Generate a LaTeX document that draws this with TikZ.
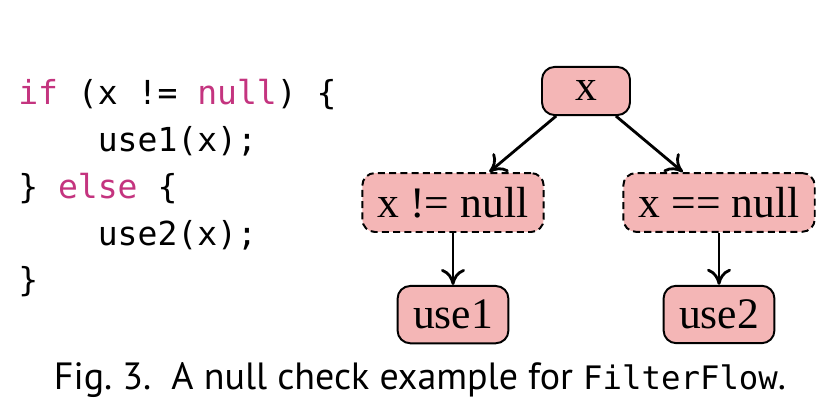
\documentclass[tikz,border=0pt]{standalone}
\usepackage{fontspec}
\setmainfont{Liberation Serif}
\setsansfont{PT Sans}
\setmonofont{DejaVu Sans Mono}
\usepackage{xcolor}
\usetikzlibrary{arrows.meta, positioning}
\definecolor{nodepink}{HTML}{F4B6B6}
\definecolor{keyword}{HTML}{C4347F}

\newcommand{\kw}[1]{\textcolor{keyword}{#1}}

\begin{document}
\begin{tikzpicture}[
    every node/.style={font=\fontsize{31}{36}\selectfont},
    stmt/.style={rectangle, rounded corners=9pt, draw=black, line width=1.4pt, fill=nodepink,
                 inner xsep=11pt, inner ysep=10pt, minimum width=2.2cm},
    guard/.style={stmt, dash pattern=on 5pt off 3pt},
    code/.style={font=\ttfamily\fontsize{23.5}{33.4}\selectfont, align=left, inner sep=0pt},
    arrow/.style={-{To[length=4mm, width=6mm]}, line width=2pt}
]
\useasboundingbox (0,0) rectangle (20.85,10.4);

% --- Source code ---
\node[code, anchor=base west] (src) at (0.45,3.1)
  {\kw{if} (x != \kw{null}) \{\\
   \ \ \ \ use1(x);\\
   \} \kw{else} \{\\
   \ \ \ \ use2(x);\\
   \}};

% --- Nodes ---
\node[stmt] (root) at (14.65,8.125) {x};
\node[guard, below=1.4cm of root, xshift=-3.325cm] (notnull) {x != null};
\node[guard, below=1.4cm of root, xshift=3.325cm] (isnull) {x == null};
\node[stmt, below=1.3cm of notnull] (use1) {use1};
\node[stmt, below=1.3cm of isnull] (use2) {use2};

% --- Arrows ---
\draw[arrow] (root) -- (notnull);
\draw[arrow] (root) -- (isnull);
\draw[arrow] (notnull) -- (use1);
\draw[arrow] (isnull) -- (use2);

% --- Caption ---
\node[font=\sffamily\fontsize{27}{30}\selectfont, anchor=base] (caption) at (10.5,0.65)
  {Fig.~3.\ \ A null check example for \texttt{\fontsize{23}{28}\selectfont FilterFlow}.};

\end{tikzpicture}
\end{document}
